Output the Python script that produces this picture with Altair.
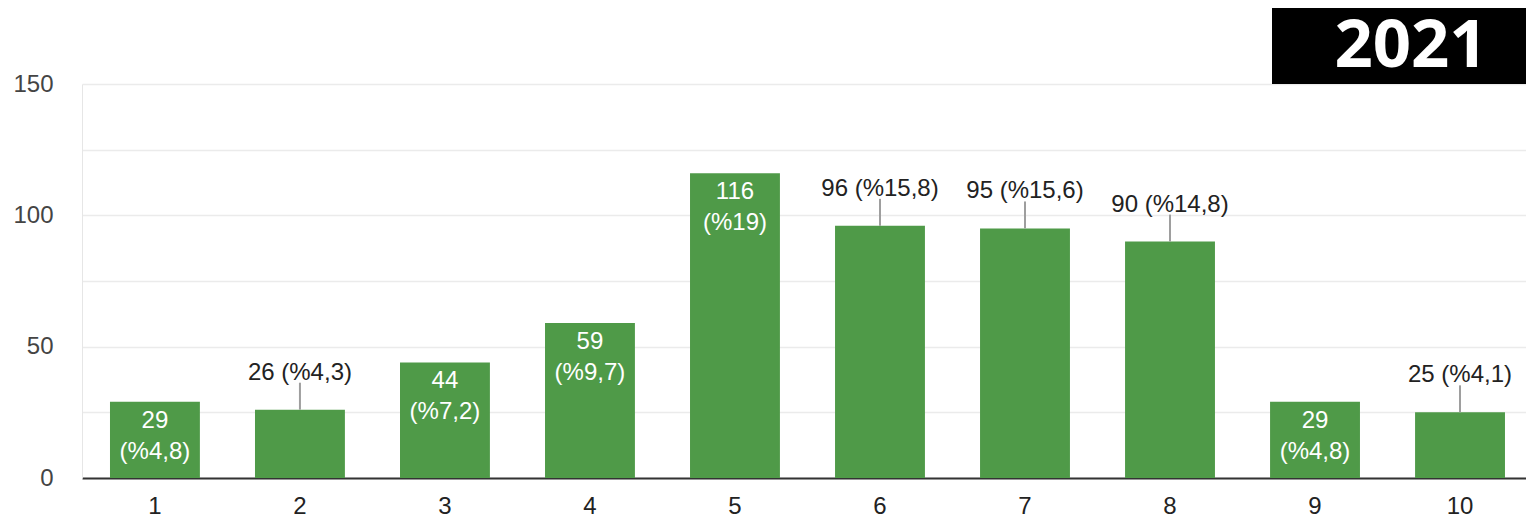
import altair as alt
import pandas as pd

categories = ["1", "2", "3", "4", "5", "6", "7", "8", "9", "10"]
counts = [29, 26, 44, 59, 116, 96, 95, 90, 29, 25]
percents = ["%4,8", "%4,3", "%7,2", "%9,7", "%19", "%15,8", "%15,6", "%14,8", "%4,8", "%4,1"]
placement = ["in", "out", "in", "in", "in", "out", "out", "out", "in", "out"]
year_label = ["2021"]

df = pd.DataFrame({
    "cat": categories,
    "count": counts,
    "pct": percents,
    "place": placement,
})
df["line1"] = df["count"].astype(str)
df["line2"] = "(" + df["pct"] + ")"
df["outlabel"] = df["line1"] + " (" + df["pct"] + ")"

FONT = "Liberation Sans"
GREEN = "#4f9a48"

x_enc = alt.X(
    "cat:N",
    sort=categories,
    title=None,
    scale=alt.Scale(paddingInner=0.38, paddingOuter=0.169, align=0.571),
    axis=alt.Axis(
        labelAngle=0,
        labelFont=FONT,
        labelFontSize=24,
        labelColor="#222222",
        labelPadding=16,
        ticks=False,
        domainColor="#333333",
        domainWidth=2,
        grid=False,
    ),
)
y_enc = alt.Y(
    "count:Q",
    title=None,
    scale=alt.Scale(domain=[0, 150], nice=False),
    axis=alt.Axis(
        values=[0, 25, 50, 75, 100, 125, 150],
        labelExpr="datum.value % 50 == 0 ? datum.label : ''",
        labelFont=FONT,
        labelFontSize=24,
        labelColor="#444444",
        labelPadding=29,
        ticks=False,
        domainColor="#e6e6e6",
        domainWidth=1,
        gridColor="#ebebeb",
        gridWidth=1.5,
    ),
)

base = alt.Chart(df)

bars = base.mark_bar(color=GREEN).encode(x=x_enc, y=y_enc)

outside = base.transform_filter(alt.datum.place == "out")
inside = base.transform_filter(alt.datum.place == "in")

leaders = outside.mark_rule(color="#9e9e9e", strokeWidth=2, y2Offset=-27).encode(
    x=alt.X("cat:N", sort=categories),
    y=alt.Y("count:Q"),
    y2=alt.Y2("count"),
)
out_text = outside.mark_text(
    font=FONT, fontSize=24, color="#222222", baseline="alphabetic", dy=-30
).encode(x=alt.X("cat:N", sort=categories), y=alt.Y("count:Q"), text="outlabel:N")

in_text1 = inside.mark_text(
    font=FONT, fontSize=24, color="white", baseline="alphabetic", dy=26
).encode(x=alt.X("cat:N", sort=categories), y=alt.Y("count:Q"), text="line1:N")
in_text2 = inside.mark_text(
    font=FONT, fontSize=24, color="white", baseline="alphabetic", dy=57
).encode(x=alt.X("cat:N", sort=categories), y=alt.Y("count:Q"), text="line2:N")

year_df = pd.DataFrame({"label": year_label})
box = alt.Chart(year_df).mark_rect(color="black").encode(
    x=alt.value(1190), x2=alt.value(1444), y=alt.value(-76), y2=alt.value(0)
)
year_text = alt.Chart(year_df).mark_text(
    font="Open Sans", fontWeight="bold", fontSize=67, color="white",
    baseline="alphabetic", align="center",
).encode(x=alt.value(1329), y=alt.value(-17), text="label:N")

chart = (
    alt.layer(bars, leaders, out_text, in_text1, in_text2, box, year_text)
    .properties(
        width=1444,
        height=394,
        autosize=alt.AutoSizeParams(type="none"),
        padding={"left": 74, "top": 76, "right": 0, "bottom": 40},
    )
    .configure_view(stroke=None)
)

chart.save("out.html", embed_options={"renderer": "svg", "actions": False})
